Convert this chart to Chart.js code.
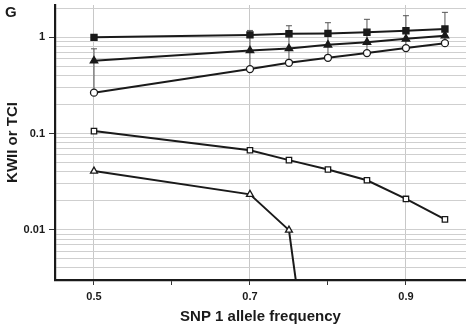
<!DOCTYPE html>
<html>
<head>
<meta charset="utf-8">
<script src="https://cdn.jsdelivr.net/npm/chart.js@4.4.1/dist/chart.umd.min.js"></script>
<style>
  html, body { margin: 0; padding: 0; background: #fff; }
  #wrap { width: 466px; height: 329px; }
</style>
</head>
<body>
<div id="wrap"><canvas id="c" width="466" height="329"></canvas></div>
<script>
// allele frequencies on the x axis
const freq = [0.5, 0.7, 0.75, 0.8, 0.85, 0.9, 0.95];

// filled squares / filled triangles / open circles (with upper error bars)
const sqFilled    = [1.00, 1.06, 1.09, 1.10, 1.13, 1.17, 1.22];
const sqFilledErr = [null, 1.18, 1.32, 1.42, 1.54, 1.68, 1.82];
const triFilled    = [0.571, 0.73, 0.765, 0.836, 0.89, 0.965, 1.04];
const triFilledErr = [0.76, 1.06, 1.09, 1.10, 1.13, 1.17, 1.22];
const circOpen    = [0.266, 0.468, 0.544, 0.613, 0.686, 0.773, 0.87];
const circOpenErr = [0.571, 0.73, 0.765, 0.836, 0.89, 0.965, 1.04];

// open squares / open triangles
const sqOpen  = [0.106, 0.067, 0.0529, 0.0423, 0.0327, 0.0209, 0.0128];
const triOpen = [0.0407, 0.0233, 0.0099, 0.0000105, null, null, null];

// tick values
const xTicks = [0.5, 0.6, 0.7, 0.8, 0.9];
const xLabeled = [0.5, 0.7, 0.9];
const yTicks = [0.003, 0.004, 0.005, 0.006, 0.007, 0.008, 0.009,
                0.01, 0.02, 0.03, 0.04, 0.05, 0.06, 0.07, 0.08, 0.09,
                0.1, 0.2, 0.3, 0.4, 0.5, 0.6, 0.7, 0.8, 0.9, 1, 2];
const yLabeled = [0.01, 0.1, 1];

const FONT = "'Liberation Sans', Arial, sans-serif";
const INK = "#1a1a1a";

const pts = arr => freq.map((f, i) => ({ x: f, y: arr[i] })).filter(p => p.y != null);
const isLabeledX = v => xLabeled.some(l => Math.abs(l - v) < 1e-6);

function series(arr, style, fill, radius, err) {
  return {
    data: pts(arr),
    errTop: err || null,
    borderColor: INK,
    borderWidth: 2,
    pointStyle: style,
    pointRadius: radius,
    pointBackgroundColor: fill,
    pointBorderColor: INK,
    pointBorderWidth: 1.3,
    tension: 0,
    clip: 0,
  };
}

// no extra room for tick labels around the plot
const noPad = s => { s.paddingTop = 0; s.paddingBottom = 0; s.paddingLeft = 0; s.paddingRight = 0; };

// draws upward error bars with a cap, under the lines
const errorBars = {
  id: "errorBars",
  beforeDatasetsDraw(chart) {
    const { ctx, scales: { x, y } } = chart;
    ctx.save();
    ctx.strokeStyle = "#555";
    ctx.lineWidth = 1;
    chart.data.datasets.forEach(ds => {
      if (!ds.errTop) return;
      ds.errTop.forEach((top, i) => {
        if (top == null) return;
        const px = x.getPixelForValue(freq[i]);
        const py = y.getPixelForValue(ds.data[i].y);
        const pt = y.getPixelForValue(top);
        ctx.beginPath();
        ctx.moveTo(px, py);
        ctx.lineTo(px, pt);
        ctx.moveTo(px - 3, pt);
        ctx.lineTo(px + 3, pt);
        ctx.stroke();
      });
    });
    ctx.restore();
  },
  afterDraw(chart) {
    const ctx = chart.ctx;
    ctx.save();
    ctx.fillStyle = INK;
    ctx.font = "bold 15px " + FONT;
    ctx.textBaseline = "middle";
    ctx.fillText("G", 5, 13);
    ctx.restore();
  },
};

new Chart(document.getElementById("c"), {
  type: "line",
  data: {
    datasets: [
      series(sqFilled, "rect", INK, 4.3, sqFilledErr),
      series(triFilled, "triangle", INK, 4.3, triFilledErr),
      series(circOpen, "circle", "#fff", 3.5, circOpenErr),
      series(sqOpen, "rect", "#fff", 3.8),
      series(triOpen, "triangle", "#fff", 4),
    ],
  },
  plugins: [errorBars],
  options: {
    responsive: false,
    animation: false,
    layout: { autoPadding: false, padding: { top: 5, right: 0, left: 0, bottom: 0 } },
    plugins: { legend: { display: false }, tooltip: { enabled: false } },
    scales: {
      x: {
        type: "linear",
        min: 0.45,
        max: 0.977,
        afterBuildTicks: s => { s.ticks = xTicks.map(v => ({ value: v })); },
        afterFit: s => { s.height = 49; noPad(s); },
        grid: {
          color: c => (c.tick && isLabeledX(c.tick.value)) ? "#c8c8c8" : "rgba(255,255,255,0)",
          tickColor: "#333",
          tickLength: 5,
        },
        border: { color: INK, width: 2.2 },
        ticks: {
          padding: 5,
          color: INK,
          font: { family: FONT, size: 11, weight: "bold" },
          callback: v => isLabeledX(v) ? String(v) : "",
        },
        title: {
          display: true,
          text: "SNP 1 allele frequency",
          color: INK,
          font: { family: FONT, size: 15, weight: "bold" },
          padding: { top: 0, bottom: 3 },
        },
      },
      y: {
        type: "logarithmic",
        min: 0.003,
        max: 2.17,
        afterBuildTicks: s => { s.ticks = yTicks.map(v => ({ value: v })); },
        afterFit: s => { s.width = 55; noPad(s); },
        grid: {
          color: "#cfcfcf",
          tickColor: c => yLabeled.includes(c.tick.value) ? "#333" : "rgba(255,255,255,0)",
          tickLength: 6,
        },
        border: { color: INK, width: 2.2 },
        ticks: {
          autoSkip: false,
          padding: 4,
          color: INK,
          font: { family: FONT, size: 11, weight: "bold" },
          callback: v => yLabeled.includes(v) ? String(v) : "",
        },
        title: {
          display: true,
          text: "KWII or TCI",
          color: INK,
          font: { family: FONT, size: 15, weight: "bold" },
          padding: { top: 4, bottom: 0 },
        },
      },
    },
  },
});
</script>
</body>
</html>
